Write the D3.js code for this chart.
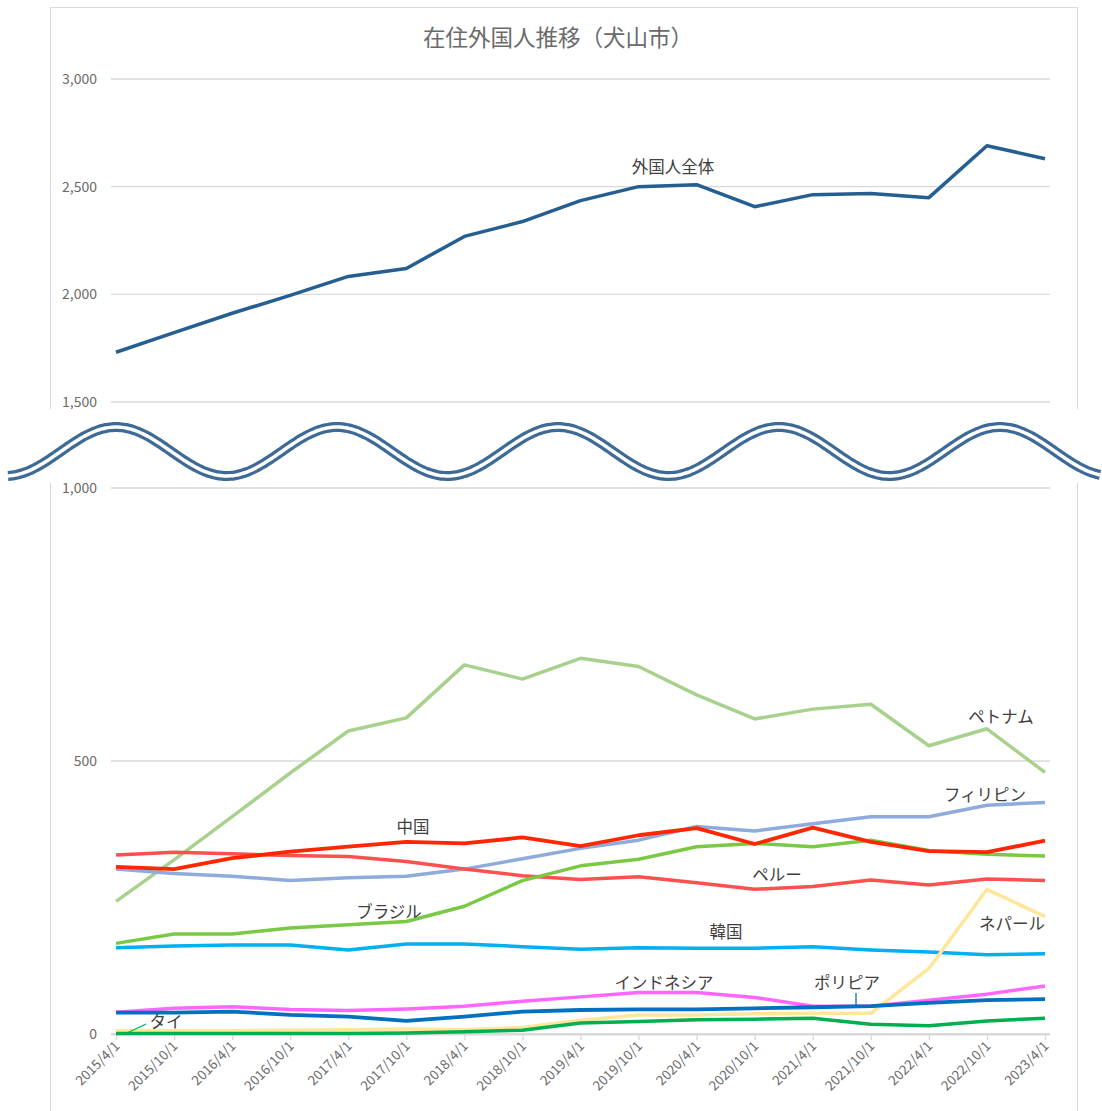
<!DOCTYPE html>
<html><head><meta charset="utf-8">
<script src="https://cdn.jsdelivr.net/npm/d3@7"></script>
<style>body{margin:0;background:#fff}svg{display:block}text{font-family:"Noto Sans CJK JP","Noto Sans",sans-serif}</style>
</head><body><svg id="c" width="1102" height="1111"></svg>
<script>
const dates = ["2015/4/1","2015/10/1","2016/4/1","2016/10/1","2017/4/1","2017/10/1","2018/4/1","2018/10/1","2019/4/1","2019/10/1","2020/4/1","2020/10/1","2021/4/1","2021/10/1","2022/4/1","2022/10/1","2023/4/1"];
const total = [1731,1822,1912,1995,2083,2120,2269,2338,2435,2500,2509,2407,2463,2468,2449,2690,2630];
const vietnam = [243,319,398,478,555,579,676,650,688,673,621,577,595,604,528,559,479];
const philippines = [302,294,289,281,286,289,302,321,340,355,380,372,385,398,398,419,424];
const china = [306,302,322,334,343,352,349,360,344,364,377,348,378,352,335,333,354];
const peru = [328,333,330,327,325,316,302,290,283,288,277,265,270,282,273,284,281];
const brazil = [166,183,183,194,200,206,234,281,308,320,343,349,343,355,336,329,326];
const korea = [158,161,163,163,154,165,165,160,155,158,157,157,160,154,150,145,147];
const indonesia = [40,47,50,45,43,46,51,60,68,76,76,67,51,51,62,73,88];
const bolivia = [39,39,41,35,32,24,32,41,44,45,45,47,49,51,57,62,64];
const nepal = [6,6,6,7,8,9,8,12,25,35,35,37,38,38,120,265,215];
const thai = [1,1,1,1,1,2,4,7,20,23,26,27,29,18,15,24,29];
const upperTicks = [1500,2000,2500,3000];
const lowerTicks = [0,500,1000];

const series = [
  {name:"ペトナム", values:vietnam, color:"#a9d18e", w:3.5, lx:1001, ly:717},
  {name:"フィリピン", values:philippines, color:"#8faadc", w:3.5, lx:985, ly:795},
  {name:"ペルー", values:peru, color:"#ff5050", w:3.5, lx:777, ly:875},
  {name:"ブラジル", values:brazil, color:"#7ac943", w:3.5, lx:389, ly:912},
  {name:"中国", values:china, color:"#ff2600", w:3.8, lx:413, ly:827},
  {name:"韓国", values:korea, color:"#00b0f0", w:3.5, lx:726, ly:932},
  {name:"ネパール", values:nepal, color:"#ffe699", w:3.5, lx:1012, ly:924},
  {name:"インドネシア", values:indonesia, color:"#ff66ff", w:3.5, lx:664, ly:983},
  {name:"タイ", values:thai, color:"#00b050", w:3.5, lx:166, ly:1022},
  {name:"ポリピア", values:bolivia, color:"#0070c0", w:3.8, lx:847, ly:983}
];

const svg = d3.select("#c");
const x = d3.scalePoint().domain(dates).range([116, 1045]);
const yU = d3.scaleLinear().domain([1500,3000]).range([402,79]);
const yL = d3.scaleLinear().domain([0,1000]).range([1034,488]);
const gridX0 = 111, gridX1 = 1050;

// chart border
svg.append("rect").attr("x",50.5).attr("y",7.5).attr("width",1027).attr("height",1120)
  .attr("fill","none").attr("stroke","#d9d9d9").attr("stroke-width",1);

// title
svg.append("text").attr("x",558).attr("y",46).attr("text-anchor","middle")
  .attr("font-size",22.5).attr("fill","#6a6a6a").text("在住外国人推移（犬山市）");

// upper axis
const gU = svg.append("g");
gU.selectAll("line").data(upperTicks).join("line")
  .attr("x1",gridX0).attr("x2",gridX1).attr("y1",d=>yU(d)).attr("y2",d=>yU(d))
  .attr("stroke","#d9d9d9").attr("stroke-width",1.3);
gU.selectAll("text").data(upperTicks).join("text")
  .attr("x",97).attr("y",d=>yU(d)+5).attr("text-anchor","end")
  .attr("font-size",14).attr("fill","#6a6a6a").text(d=>d3.format(",")(d));

// lower axis
const gL = svg.append("g");
gL.selectAll("line").data(lowerTicks).join("line")
  .attr("x1",gridX0).attr("x2",gridX1).attr("y1",d=>yL(d)).attr("y2",d=>yL(d))
  .attr("stroke","#d9d9d9").attr("stroke-width",d=>d===0?1.8:1.3);
gL.selectAll("text").data(lowerTicks).join("text")
  .attr("x",97).attr("y",d=>yL(d)+5).attr("text-anchor","end")
  .attr("font-size",14).attr("fill","#6a6a6a").text(d=>d3.format(",")(d));

// x axis ticks and labels
const gx = svg.append("g").attr("transform","translate(0,1034)");
const xAxis = d3.axisBottom(x).tickSize(6).tickPadding(4);
gx.call(xAxis);
gx.select(".domain").attr("stroke","#d9d9d9").attr("stroke-width",1.8)
  .attr("d",`M${gridX0},0.5H${gridX1}`);
gx.selectAll(".tick line").attr("stroke","#d9d9d9").attr("stroke-width",1.3);
gx.selectAll(".tick text").attr("font-size",13.5).attr("fill","#6a6a6a")
  .attr("text-anchor","end").attr("dy",0).attr("y",0)
  .attr("transform","translate(4,13) rotate(-45)");

// upper line
const lineU = d3.line().x((d,i)=>x(dates[i])).y(d=>yU(d));
svg.append("path").attr("d",lineU(total)).attr("fill","none")
  .attr("stroke","#255e91").attr("stroke-width",3.5).attr("stroke-linejoin","round");
svg.append("text").attr("x",673).attr("y",173).attr("text-anchor","middle")
  .attr("font-size",16.5).attr("fill","#404040").text("外国人全体");

// lower lines
const lineL = d3.line().x((d,i)=>x(dates[i])).y(d=>yL(d));
svg.append("g").selectAll("path").data(series).join("path")
  .attr("d",d=>lineL(d.values)).attr("fill","none")
  .attr("stroke",d=>d.color).attr("stroke-width",d=>d.w).attr("stroke-linejoin","round");

// leader lines
svg.append("line").attr("x1",127).attr("y1",1033).attr("x2",146).attr("y2",1024)
  .attr("stroke","#00b050").attr("stroke-width",1.3);
svg.append("line").attr("x1",856).attr("y1",993).attr("x2",856).attr("y2",1007)
  .attr("stroke","#0070c0").attr("stroke-width",1.3);

svg.append("g").selectAll("text").data(series).join("text")
  .attr("x",d=>d.lx).attr("y",d=>d.ly+6).attr("text-anchor","middle")
  .attr("font-size",16.5).attr("fill","#404040").text(d=>d.name);

// axis break
svg.append("rect").attr("x",0).attr("y",409).attr("width",1102).attr("height",74).attr("fill","#fff");
const wave = d3.range(8, 1102, 2).map(px => [px, 451.5 - 24.5*Math.cos(2*Math.PI*(px-116)/221)]);
const wl = d3.line().curve(d3.curveBasis);
svg.append("path").attr("d",wl(wave)).attr("fill","none").attr("stroke","#3d6a96").attr("stroke-width",10);
svg.append("path").attr("d",wl(wave)).attr("fill","none").attr("stroke","#fff").attr("stroke-width",3.5);
</script></body></html>
